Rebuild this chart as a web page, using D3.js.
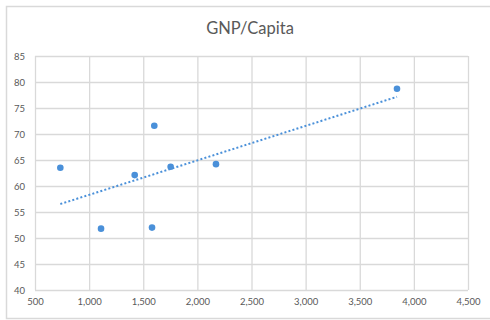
<!DOCTYPE html>
<html>
<head>
<meta charset="utf-8">
<script src="https://cdn.jsdelivr.net/npm/d3@7"></script>
<style>
  html, body { margin: 0; padding: 0; background: #fff; }
  svg { display: block; }
</style>
</head>
<body>
<script>
// GNP per capita (x) against the second indicator (y)
const gnpPerCapita = [734, 1110, 1421, 1602, 1581, 1753, 2172, 3844];
const indicator    = [63.5, 51.8, 62.1, 71.6, 52.0, 63.7, 64.2, 78.7];
const xTicks = [500, 1000, 1500, 2000, 2500, 3000, 3500, 4000, 4500];
const yTicks = [40, 45, 50, 55, 60, 65, 70, 75, 80, 85];
const chartTitle = "GNP/Capita";

const W = 490, H = 320;
const margin = { left: 35, right: 22, top: 56, bottom: 30 };
const blue = "#4a90d9";
const textColor = "#595959";
const gridColor = "#d9d9d9";
const font = "Lato, 'Open Sans', sans-serif";

const svg = d3.select("body").append("svg").attr("width", W).attr("height", H);

// chart frame
svg.append("rect")
  .attr("x", 6.5).attr("y", 6.5)
  .attr("width", W).attr("height", 312)
  .attr("fill", "#fff").attr("stroke", "#d9d9d9").attr("stroke-width", 1.5);

const x = d3.scaleLinear().domain([500, 4500]).range([margin.left, W - margin.right]);
const y = d3.scaleLinear().domain([40, 85]).range([H - margin.bottom, margin.top]);

// gridlines
const xAxis = d3.axisBottom(x).tickValues(xTicks)
  .tickSize(-(y(40) - y(85))).tickFormat(d3.format(","));
const yAxis = d3.axisLeft(y).tickValues(yTicks)
  .tickSize(-(x(4500) - x(500))).tickFormat(d3.format("d"));

const gx = svg.append("g").attr("transform", `translate(0,${y(40)})`).call(xAxis);
const gy = svg.append("g").attr("transform", `translate(${x(500)},0)`).call(yAxis);

[gx, gy].forEach(g => {
  g.select(".domain").remove();
  g.selectAll(".tick line").attr("stroke", gridColor).attr("stroke-width", 1.3);
  g.selectAll(".tick text")
    .attr("fill", textColor)
    .style("font-family", font)
    .style("font-size", "9.5px");
});
gx.selectAll(".tick text").attr("dy", "1.25em");
gy.selectAll(".tick text").attr("x", -10);

// title
svg.append("text")
  .attr("x", 250).attr("y", 34)
  .attr("text-anchor", "middle")
  .attr("fill", textColor)
  .style("font-family", font)
  .style("font-size", "16.5px")
  .text(chartTitle);

// least-squares linear trendline
const n = gnpPerCapita.length;
const mx = d3.mean(gnpPerCapita), my = d3.mean(indicator);
let sxy = 0, sxx = 0;
for (let i = 0; i < n; i++) {
  sxy += (gnpPerCapita[i] - mx) * (indicator[i] - my);
  sxx += (gnpPerCapita[i] - mx) ** 2;
}
const slope = sxy / sxx, intercept = my - slope * mx;
const xExt = d3.extent(gnpPerCapita);

svg.append("line")
  .attr("x1", x(xExt[0])).attr("y1", y(intercept + slope * xExt[0]))
  .attr("x2", x(xExt[1])).attr("y2", y(intercept + slope * xExt[1]))
  .attr("stroke", blue).attr("stroke-width", 2)
  .attr("stroke-dasharray", "2,2.2");

// scatter points
svg.append("g").selectAll("circle")
  .data(gnpPerCapita.map((g, i) => [g, indicator[i]]))
  .join("circle")
  .attr("cx", d => x(d[0]))
  .attr("cy", d => y(d[1]))
  .attr("r", 3.3)
  .attr("fill", blue);
</script>
</body>
</html>
